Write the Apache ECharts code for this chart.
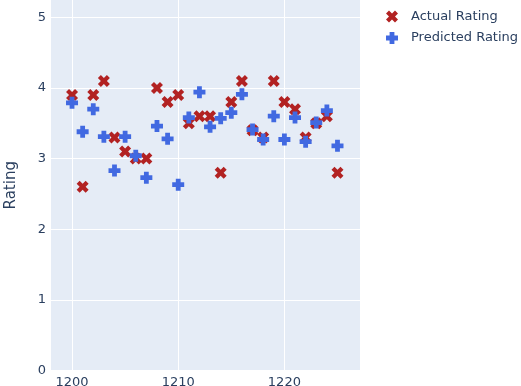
<!DOCTYPE html>
<html><head><meta charset="utf-8">
<script src="https://cdn.jsdelivr.net/npm/echarts@6/dist/echarts.min.js"></script>
<style>html,body{margin:0;padding:0;background:#fff}#c{width:521px;height:386px}</style>
</head><body><div id="c"></div>
<script>
const ids = [1200,1201,1202,1203,1204,1205,1206,1207,1208,1209,1210,1211,1212,1213,1214,1215,1216,1217,1218,1219,1220,1221,1222,1223,1224,1225];
const actual = [3.9,2.6,3.9,4.1,3.3,3.1,3.0,3.0,4.0,3.8,3.9,3.5,3.6,3.6,2.8,3.8,4.1,3.4,3.3,4.1,3.8,3.7,3.3,3.5,3.6,2.8];
const predicted = [3.79,3.38,3.70,3.31,2.83,3.31,3.04,2.73,3.46,3.28,2.63,3.58,3.94,3.45,3.57,3.65,3.91,3.41,3.27,3.60,3.27,3.58,3.24,3.51,3.68,3.18];
const xTicks = [1200,1210,1220];
const yTicks = [0,1,2,3,4,5];

const X_PATH = 'path://M2,3L3,4L4,3L3,2L4,1L3,0L2,1L1,0L0,1L1,2L0,3L1,4Z';
const PLUS_PATH = 'path://M3,0L7,0L7,3L10,3L10,7L7,7L7,10L3,10L3,7L0,7L0,3L3,3Z';
const font = '"DejaVu Sans", Verdana, sans-serif';
const txt = '#2a3f5f';

const chart = echarts.init(document.getElementById('c'), null, {renderer:'canvas'});
chart.setOption({
  animation:false,
  backgroundColor:'#fff',
  grid:{left:51, top:0, width:309, height:370.5, show:true, backgroundColor:'#E5ECF6', borderWidth:0,
    containLabel:false, outerBoundsMode:'none'},
  xAxis:{type:'value', min:1198.02, max:1227.12,
    axisLine:{show:false}, axisTick:{show:false, customValues:xTicks},
    axisLabel:{customValues:xTicks, color:txt, fontFamily:font, fontSize:13, margin:6,
      formatter:v=>String(v)},
    splitLine:{show:true, lineStyle:{color:'#fff', width:1}}},
  yAxis:{type:'value', min:0, max:5.245,
    axisLine:{show:false}, axisTick:{show:false, customValues:yTicks},
    axisLabel:{customValues:yTicks, color:txt, fontFamily:font, fontSize:13, margin:5},
    splitLine:{show:true, lineStyle:{color:'#fff', width:1}},
    name:'Rating', nameLocation:'middle', nameRotate:90, nameGap:32,
    nameTextStyle:{color:txt, fontFamily:font, fontSize:15}},
  legend:{orient:'vertical', left:381, top:5, itemWidth:12, itemHeight:12, itemGap:8.5,
    textStyle:{color:txt, fontFamily:font, fontSize:13, padding:[0,0,0,8]},
    data:[{name:'Actual Rating', icon:X_PATH},{name:'Predicted Rating', icon:PLUS_PATH}]},
  series:[
    {name:'Actual Rating', type:'scatter', symbol:X_PATH, symbolSize:12,
      itemStyle:{color:'#B22222', opacity:1},
      data: ids.map((x,i)=>[x, actual[i]])},
    {name:'Predicted Rating', type:'scatter', symbol:PLUS_PATH, symbolSize:12,
      itemStyle:{color:'#4169E1', opacity:1},
      data: ids.map((x,i)=>[x, predicted[i]])}
  ]
});
</script></body></html>
